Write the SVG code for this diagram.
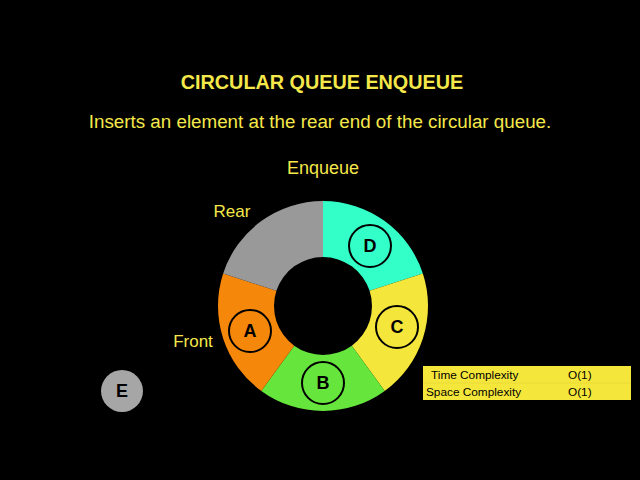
<svg xmlns="http://www.w3.org/2000/svg" width="640" height="480" viewBox="0 0 640 480">
<style>
text{font-family:"Liberation Sans",Arial,Helvetica,sans-serif}
.y{fill:#F5E84A}
.lbl{fill:#F5E84A;font-size:17px}
.node{fill:none;stroke:#000;stroke-width:2}
.nt{fill:#000;font-size:18px;font-weight:bold;text-anchor:middle}
.tt{fill:#000;font-size:11.8px}
</style>
<rect width="640" height="480" fill="#000"/>
<text x="322" y="89" text-anchor="middle" class="y" font-size="19.8" font-weight="bold">CIRCULAR QUEUE ENQUEUE</text>
<text x="320" y="128" text-anchor="middle" class="y" font-size="18.8">Inserts an element at the rear end of the circular queue.</text>
<text x="323" y="174" text-anchor="middle" class="y" font-size="18">Enqueue</text>
<g id="ring">
<path id="segD" d="M323,201 A105,105 0 0 1 422.86,273.55 L369.60,290.86 A49,49 0 0 0 323,257 Z" fill="#33FFC8"/>
<path id="segC" d="M422.86,273.55 A105,105 0 0 1 384.72,390.95 L351.80,345.64 A49,49 0 0 0 369.60,290.86 Z" fill="#F5E63C"/>
<path id="segB" d="M384.72,390.95 A105,105 0 0 1 261.28,390.95 L294.20,345.64 A49,49 0 0 0 351.80,345.64 Z" fill="#66E63C"/>
<path id="segA" d="M261.28,390.95 A105,105 0 0 1 223.14,273.55 L276.40,290.86 A49,49 0 0 0 294.20,345.64 Z" fill="#F5870A"/>
<path id="segE" d="M223.14,273.55 A105,105 0 0 1 323,201 L323,257 A49,49 0 0 0 276.40,290.86 Z" fill="#999999"/>
</g>
<g id="nodeD"><circle cx="370" cy="246" r="21" class="node"/><text x="370" y="252" class="nt">D</text></g>
<g id="nodeC"><circle cx="397" cy="327" r="21" class="node"/><text x="397" y="333" class="nt">C</text></g>
<g id="nodeB"><circle cx="323" cy="383" r="21" class="node"/><text x="323" y="389" class="nt">B</text></g>
<g id="nodeA"><circle cx="250" cy="331" r="21" class="node"/><text x="250" y="337" class="nt">A</text></g>
<g id="nodeE"><circle cx="122" cy="391" r="21" fill="#A6A6A6"/><text x="122" y="397" class="nt">E</text></g>
<text x="232" y="217" text-anchor="middle" class="lbl">Rear</text>
<text x="193" y="347" text-anchor="middle" class="lbl">Front</text>
<g id="table">
<rect x="423" y="366" width="208" height="34" fill="#F5E63C"/>
<line x1="423" y1="383" x2="631" y2="383" stroke="#E0D236" stroke-width="0.5"/>
<text x="431" y="379" class="tt">Time Complexity</text>
<text x="568" y="379" class="tt">O(1)</text>
<text x="426" y="396" class="tt">Space Complexity</text>
<text x="568" y="396" class="tt">O(1)</text>
</g>
<g id="connectors"/>
</svg>
